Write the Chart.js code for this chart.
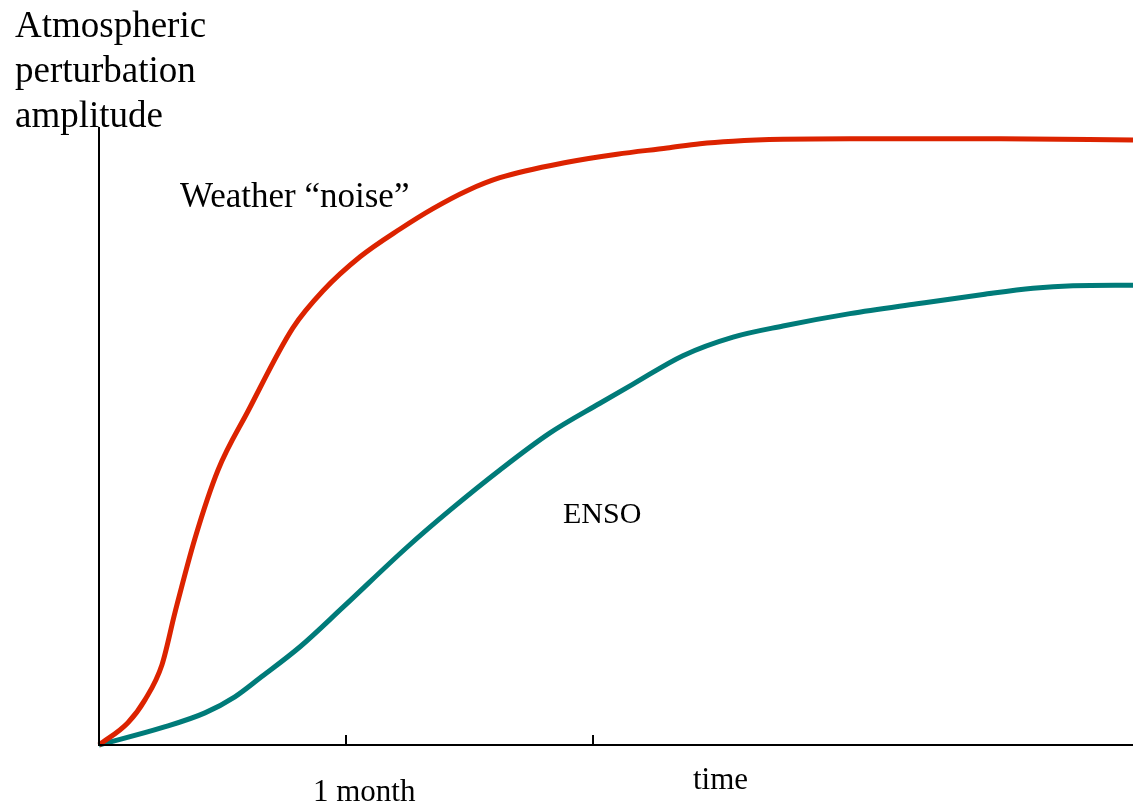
<!DOCTYPE html>
<html>
<head>
<meta charset="utf-8">
<title>Atmospheric perturbation amplitude</title>
<script src="https://cdn.jsdelivr.net/npm/chart.js@4/dist/chart.umd.min.js"></script>
<style>
    html, body { margin: 0; padding: 0; background: #fff; }
    #wrap { width: 1133px; height: 806px; position: relative; }
</style>
</head>
<body>
<div id="wrap"><canvas id="growthChart"></canvas></div>
<script>
// time in months, amplitude as a fraction of the axis height
const weatherTime = [0, 0.117, 0.186, 0.255, 0.308, 0.389, 0.482, 0.603, 0.785, 0.907, 1.057, 1.219, 1.352, 1.49, 1.623, 1.895, 2.097, 2.3, 2.433, 2.567, 2.769, 3.04, 3.648, 4.186];
const weatherAmp  = [0, 0.036, 0.073, 0.13, 0.215, 0.335, 0.445, 0.54, 0.675, 0.735, 0.79, 0.835, 0.868, 0.897, 0.918, 0.943, 0.956, 0.966, 0.973, 0.977, 0.98, 0.981, 0.981, 0.979];

const ensoTime = [0, 0.255, 0.429, 0.55, 0.65, 0.814, 0.988, 1.247, 1.421, 1.623, 1.826, 2.028, 2.162, 2.364, 2.567, 2.769, 3.04, 3.312, 3.579, 3.781, 3.943, 4.186];
const ensoAmp  = [0, 0.028, 0.052, 0.078, 0.108, 0.159, 0.223, 0.32, 0.38, 0.445, 0.505, 0.553, 0.584, 0.63, 0.66, 0.678, 0.698, 0.714, 0.729, 0.739, 0.743, 0.744];

const tickMonths = [1, 2];
const xMax = 4.186;
const yMax = 1;

const colors = {
    weather: '#dc2300',
    enso: '#007b79',
    ink: '#000'
};

const serif = '"Liberation Serif", "DejaVu Serif", serif';

function toPoints(xs, ys) {
    return xs.map((x, i) => ({ x: x, y: ys[i] }));
}

// Axes, tick marks and text labels
const annotate = {
    id: 'annotate',
    afterDatasetsDraw(chart) {
        const ctx = chart.ctx;
        const xs = chart.scales.x;
        const ys = chart.scales.y;
        const x0 = xs.getPixelForValue(0);
        const y0 = ys.getPixelForValue(0);
        ctx.save();
        ctx.strokeStyle = colors.ink;
        ctx.lineWidth = 2;
        ctx.beginPath();
        ctx.moveTo(x0, ys.getPixelForValue(yMax));
        ctx.lineTo(x0, y0);
        ctx.lineTo(xs.getPixelForValue(xMax), y0);
        ctx.stroke();

        tickMonths.forEach(m => {
            const px = xs.getPixelForValue(m);
            ctx.beginPath();
            ctx.moveTo(px, y0);
            ctx.lineTo(px, y0 - 10);
            ctx.stroke();
        });

        ctx.fillStyle = colors.ink;
        ctx.textBaseline = 'alphabetic';
        ctx.textAlign = 'left';
        ctx.font = '37px ' + serif;
        ctx.fillText('Atmospheric', 15, 37);
        ctx.fillText('perturbation', 15, 82);
        ctx.fillText('amplitude', 15, 127);

        ctx.font = '35px ' + serif;
        ctx.fillText('Weather \u201cnoise\u201d', 180, 207);

        ctx.font = '30px ' + serif;
        ctx.fillText('ENSO', 563, 523);

        ctx.font = '31px ' + serif;
        ctx.fillText('1 month', 313, 801);
        ctx.fillText('time', 693, 789);
        ctx.restore();
    }
};

new Chart(document.getElementById('growthChart'), {
    type: 'line',
    data: {
        datasets: [
            {
                label: 'Weather noise',
                data: toPoints(weatherTime, weatherAmp),
                borderColor: colors.weather,
                borderWidth: 5,
                pointRadius: 0,
                cubicInterpolationMode: 'monotone',
                fill: false
            },
            {
                label: 'ENSO',
                data: toPoints(ensoTime, ensoAmp),
                borderColor: colors.enso,
                borderWidth: 5,
                pointRadius: 0,
                cubicInterpolationMode: 'monotone',
                fill: false
            }
        ]
    },
    options: {
        responsive: true,
        maintainAspectRatio: false,
        animation: false,
        clip: false,
        layout: {
            padding: { left: 99, top: 127, right: 0, bottom: 61 }
        },
        plugins: {
            legend: { display: false },
            tooltip: { enabled: false }
        },
        scales: {
            x: { type: 'linear', min: 0, max: xMax, display: false },
            y: { type: 'linear', min: 0, max: yMax, display: false }
        }
    },
    plugins: [annotate]
});
</script>
</body>
</html>
